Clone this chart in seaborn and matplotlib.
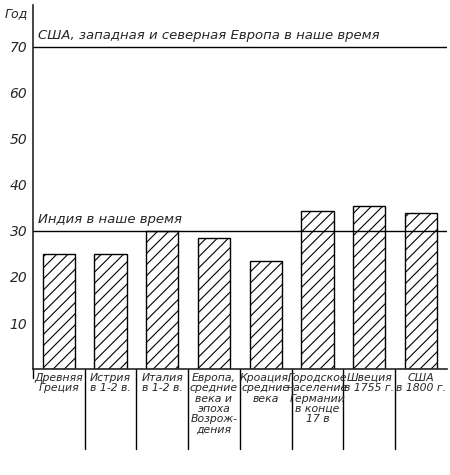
import matplotlib
matplotlib.use("Agg")
import matplotlib.pyplot as plt
import seaborn as sns
import pandas as pd

categories = ["Древняя\nГреция", "Истрия\nв 1-2 в.", "Италия\nв 1-2 в.",
              "Европа,\nсредние\nвека и\nэпоха\nВозрож-\nдения",
              "Кроация,\nсредние\nвека", "Городское\nнаселение\nГермании\nв конце\n17 в",
              "Швеция\nв 1755 г.", "США\nв 1800 г."]
values = [25, 25, 30, 28.5, 23.5, 34.3, 35.5, 33.8]
ref_values = [70, 30]
ref_labels = ["США, западная и северная Европа в наше время", "Индия в наше время"]
yticks = [10, 20, 30, 40, 50, 60, 70]

sns.set_style("white")
plt.rcParams['font.family'] = ['DejaVu Sans']
plt.rcParams['hatch.linewidth'] = 0.8
fig = plt.figure(figsize=(4.5, 4.75), dpi=100)
ax = fig.add_axes([0.073, 0.223, 0.92, 0.766])
df = pd.DataFrame({"cat": categories, "val": values})
sns.barplot(data=df, x="cat", y="val", ax=ax, color="white", edgecolor="black",
            linewidth=1, width=0.62, hatch="///", saturation=1)
ax.set_ylim(0, 79)
ax.set_xlim(-0.5, len(categories) - 0.5)
ax.set_yticks(yticks)
ax.set_yticklabels([str(t) for t in yticks], fontstyle="italic", fontsize=10)
ax.tick_params(axis="y", length=0, pad=4)
ax.set_xticks([])
ax.set_xlabel(""); ax.set_ylabel("")
for s in ["top", "right"]:
    ax.spines[s].set_visible(False)
ax.spines["left"].set_linewidth(1.2)
ax.spines["bottom"].set_linewidth(1.2)
for v, lab in zip(ref_values, ref_labels):
    ax.axhline(v, color="black", lw=1)
    ax.text(-0.4, v + 1, lab, fontstyle="italic", fontsize=9.5, va="bottom")
ax.text(-0.6, 78.5, "Год", fontstyle="italic", fontsize=9, ha="right", va="top")
for b in range(1, len(categories)):
    ax.plot([b - 0.5, b - 0.5], [0, -17.4], color="black", lw=1, clip_on=False)
ax.plot([-0.5, -0.5], [0, -2], color="black", lw=1, clip_on=False)
for i, c in enumerate(categories):
    ax.text(i, -0.8, c, ha="center", va="top", fontstyle="italic", fontsize=7.8,
            linespacing=1.05)
fig.savefig("out.png", dpi=100, facecolor="white")
